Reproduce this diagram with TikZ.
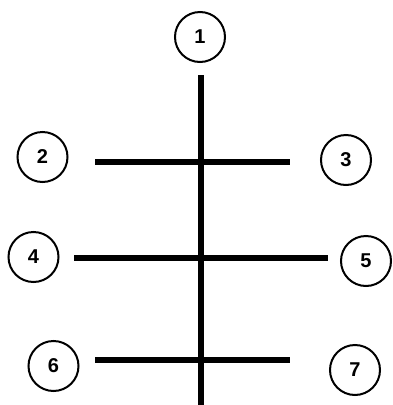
\documentclass[tikz,border=0pt]{standalone}
\usepackage{fontspec}
\setmainfont{Liberation Sans}
\begin{document}
\begin{tikzpicture}[x=1pt,y=-1pt,
  num/.style={circle,draw=black,line width=2pt,minimum size=50pt,inner sep=0pt,font=\fontsize{20}{20}\selectfont\bfseries},
  bar/.style={line width=6pt,black}]
\useasboundingbox (0,0) rectangle (392,405);
\node[num] (n1) at (200,37) {1};
\node[num] (n2) at (42.5,157) {2};
\node[num] (n3) at (346,160) {3};
\node[num] (n4) at (33.5,257) {4};
\node[num] (n5) at (366,261) {5};
\node[num] (n6) at (53.5,366) {6};
\node[num] (n7) at (355,370) {7};
\coordinate (vt) at (201,75);
\coordinate (vb) at (201,405);
\coordinate (a1) at (95,161.5);
\coordinate (b1) at (290,161.5);
\coordinate (a2) at (74,258);
\coordinate (b2) at (328,258);
\coordinate (a3) at (95,360);
\coordinate (b3) at (290,360);
\draw[bar] (vt) -- (vb);
\draw[bar] (a1) -- (b1);
\draw[bar] (a2) -- (b2);
\draw[bar] (a3) -- (b3);
\end{tikzpicture}
\end{document}
